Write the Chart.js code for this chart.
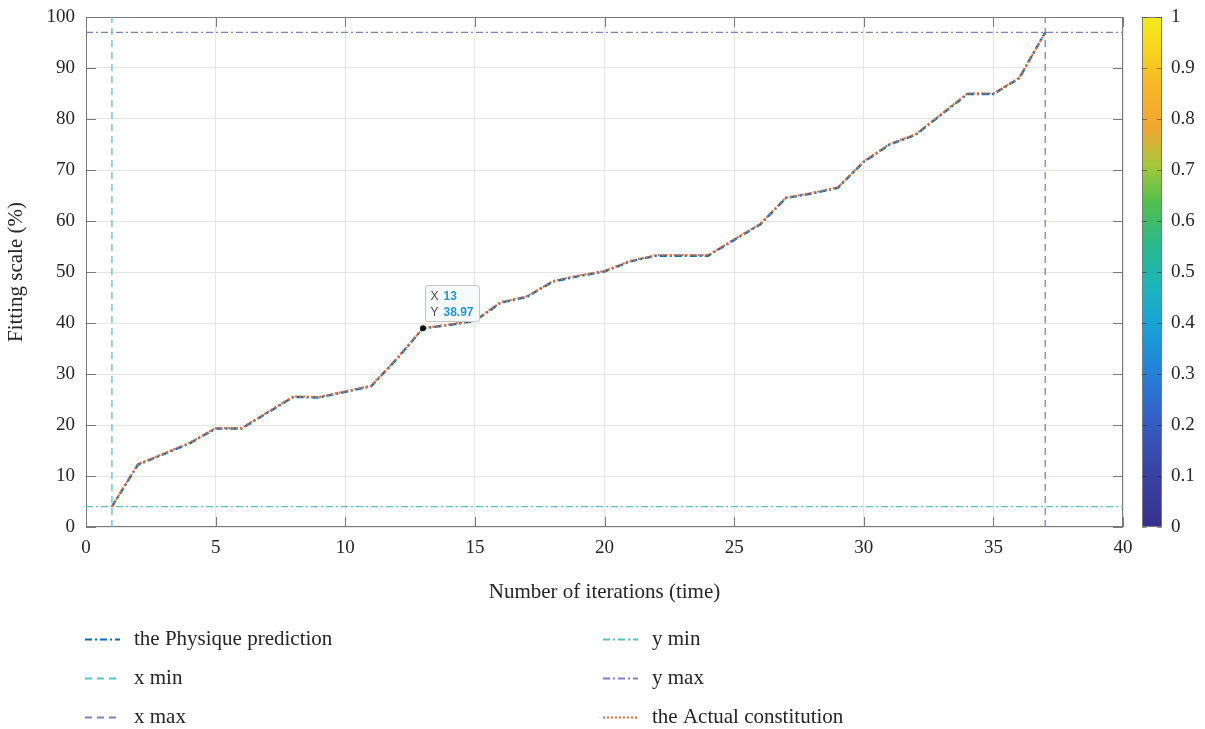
<!DOCTYPE html>
<html><head><meta charset="utf-8">
<script src="https://cdn.jsdelivr.net/npm/chart.js@4.4.0/dist/chart.umd.min.js"></script>
<style>html,body{margin:0;padding:0;background:#fff;}#wrap{width:1205px;height:729px;}</style>
</head><body><div id="wrap"><canvas id="c" width="1205" height="729"></canvas></div>
<script>
// ---- data ----
const iterations = [1,2,3,4,5,6,7,8,9,10,11,12,13,14,15,16,17,18,19,20,21,22,23,24,25,26,27,28,29,30,31,32,33,34,35,36,37];
const physiquePrediction = [4.0,12.2,14.3,16.4,19.3,19.3,22.4,25.5,25.4,26.5,27.6,33.0,38.97,39.6,40.4,44.0,45.1,48.1,49.2,50.1,52.1,53.2,53.2,53.2,56.3,59.3,64.5,65.4,66.5,71.6,75.0,76.9,80.9,84.9,84.9,88.0,97.0];
const actualConstitution = [4.0,12.3,14.4,16.5,19.4,19.4,22.5,25.6,25.5,26.6,27.7,33.1,38.97,39.7,40.5,44.1,45.2,48.2,49.3,50.2,52.2,53.3,53.3,53.3,56.4,59.4,64.6,65.5,66.6,71.7,75.1,77.0,81.0,85.0,85.0,88.1,97.0];
const xTickValues = [0,5,10,15,20,25,30,35,40];
const yTickValues = [0,10,20,30,40,50,60,70,80,90,100];
const colorbarTicks = [0,0.1,0.2,0.3,0.4,0.5,0.6,0.7,0.8,0.9,1];
const xAxisRange = [0,40];
const yAxisRange = [0,100];
const colorbarRange = [0,1];
const tipIndex = 12;
const seriesLabels = ['the Physique prediction','the Actual constitution','x min','x max','y min','y max'];

// ---- derived reference values ----
const xMin = Math.min(...iterations), xMax = Math.max(...iterations);
const yMin = Math.min(...physiquePrediction), yMax = Math.max(...physiquePrediction);

const SERIF = "'Liberation Serif','Times New Roman',serif";
const TXT = '#262626';
const C_BLUE = '#0072BD', C_ORANGE = '#EE6A35', C_TEAL = '#55C6C2', C_PURP = '#7F7FC4';

const pts = (xs, ys) => xs.map((x,i)=>({x, y: ys[i]}));

const datasets = [
  {label: seriesLabels[0], data: pts(iterations, physiquePrediction), borderColor: C_BLUE, borderWidth: 2.4, borderDash:[7,3,2,3], order: 1},
  {label: seriesLabels[1], data: pts(iterations, actualConstitution), borderColor: C_ORANGE, borderWidth: 2.2, borderDash:[2,2], order: 0},
  {label: seriesLabels[2], data: [{x:xMin,y:yAxisRange[0]},{x:xMin,y:yAxisRange[1]}], borderColor: C_TEAL, borderWidth: 1.3, borderDash:[7,5], order: 2},
  {label: seriesLabels[3], data: [{x:xMax,y:yAxisRange[0]},{x:xMax,y:yAxisRange[1]}], borderColor: C_PURP, borderWidth: 1.3, borderDash:[7,5], order: 2},
  {label: seriesLabels[4], data: [{x:xAxisRange[0],y:yMin},{x:xAxisRange[1],y:yMin}], borderColor: C_TEAL, borderWidth: 1.3, borderDash:[7,3,2,3], order: 2},
  {label: seriesLabels[5], data: [{x:xAxisRange[0],y:yMax},{x:xAxisRange[1],y:yMax}], borderColor: C_PURP, borderWidth: 1.3, borderDash:[7,3,2,3], order: 2},
];
datasets.forEach(d=>{ d.pointRadius = 0; d.fill = false; d.tension = 0; d.backgroundColor = d.borderColor; });

// legend layout: columns of dataset indices
const legendColumns = [[0,2,3],[4,5,1]];

const parula = [
  [0.00,'#36308c'],[0.12,'#3b45a8'],[0.22,'#3461c6'],[0.32,'#2286d8'],[0.40,'#18a4d6'],
  [0.48,'#1fb5b8'],[0.56,'#2cb986'],[0.64,'#55bf4c'],[0.71,'#a6c83a'],[0.78,'#f0a732'],
  [0.86,'#f7b52a'],[0.93,'#f6d21e'],[1.00,'#f4ea1e']
];

const decor = {
  id: 'decor',
  beforeDatasetsDraw(chart) {
    const {ctx, chartArea: a, scales} = chart;
    const sx = scales.x, sy = scales.y, sb = scales.yBar;
    ctx.save();
    ctx.strokeStyle = '#7a7a7a'; ctx.lineWidth = 1;
    ctx.strokeRect(Math.round(a.left)+0.5, Math.round(a.top)+0.5, Math.round(a.right-a.left)-1, Math.round(a.bottom-a.top)-1);
    const TL = 10;
    ctx.beginPath();
    xTickValues.forEach(v=>{ const p = Math.round(sx.getPixelForValue(v))+0.5;
      ctx.moveTo(p, a.bottom); ctx.lineTo(p, a.bottom-TL); ctx.moveTo(p, a.top); ctx.lineTo(p, a.top+TL); });
    yTickValues.forEach(v=>{ const p = Math.round(sy.getPixelForValue(v))+0.5;
      ctx.moveTo(a.left, p); ctx.lineTo(a.left+TL, p); ctx.moveTo(a.right, p); ctx.lineTo(a.right-TL, p); });
    ctx.stroke();
    // colorbar
    const bx = Math.round(a.right) + 19, bw = 20;
    const bt = sb.getPixelForValue(colorbarRange[1]), bb = sb.getPixelForValue(colorbarRange[0]);
    const g = ctx.createLinearGradient(0, bb, 0, bt);
    parula.forEach(([s,c])=>g.addColorStop(s,c));
    ctx.fillStyle = g; ctx.fillRect(bx, bt, bw, bb-bt);
    ctx.strokeStyle = '#7a7a7a'; ctx.strokeRect(bx+0.5, bt+0.5, bw-1, bb-bt-1);
    ctx.strokeStyle = 'rgba(40,40,40,0.5)';
    ctx.beginPath();
    colorbarTicks.forEach(v=>{ const p = Math.round(sb.getPixelForValue(v))+0.5;
      ctx.moveTo(bx+bw, p); ctx.lineTo(bx+bw-5, p); ctx.moveTo(bx, p); ctx.lineTo(bx+5, p); });
    ctx.stroke();
    ctx.restore();
  },
  afterDatasetsDraw(chart) {
    const {ctx, scales} = chart;
    const sx = scales.x, sy = scales.y;
    ctx.save();
    const px = sx.getPixelForValue(iterations[tipIndex]);
    const py = sy.getPixelForValue(physiquePrediction[tipIndex]);
    ctx.fillStyle = '#111';
    ctx.beginPath(); ctx.arc(px, py, 3, 0, Math.PI*2); ctx.fill();
    const bx = Math.round(px)+2.5, by = Math.round(py)-42.5, bw = 54, bh = 36;
    ctx.fillStyle = '#f8f9fb'; ctx.strokeStyle = '#c4c4c4'; ctx.lineWidth = 1;
    ctx.beginPath(); ctx.roundRect(bx, by, bw, bh, 2); ctx.fill(); ctx.stroke();
    ctx.textBaseline = 'middle'; ctx.textAlign = 'left';
    ctx.font = "12px 'Liberation Sans', Arial, sans-serif"; ctx.fillStyle = '#4a4a4a';
    ctx.fillText('X', bx+5, by+11); ctx.fillText('Y', bx+5, by+27);
    ctx.font = "bold 12px 'Liberation Sans', Arial, sans-serif"; ctx.fillStyle = '#1b9bd7';
    ctx.fillText(String(iterations[tipIndex]), bx+18, by+11);
    ctx.fillText(physiquePrediction[tipIndex].toFixed(2), bx+18, by+27);
    // legend
    const colX = [85, 603], rowY = [639, 678, 717], sampleW = 35, textGap = 14;
    ctx.font = "21px " + SERIF;
    legendColumns.forEach((col, ci)=>{
      col.forEach((di, ri)=>{
        const ds = chart.data.datasets[di];
        const x = colX[ci], y = rowY[ri];
        ctx.strokeStyle = ds.borderColor; ctx.lineWidth = 2;
        ctx.setLineDash(ds.borderDash);
        ctx.beginPath(); ctx.moveTo(x, y+0.5); ctx.lineTo(x+sampleW, y+0.5); ctx.stroke();
        ctx.setLineDash([]);
        ctx.fillStyle = TXT; ctx.textBaseline = 'middle';
        ctx.fillText(ds.label, x+sampleW+textGap, y);
      });
    });
    ctx.restore();
  }
};

const tickFont = {family: SERIF, size: 19};
const titleFont = {family: SERIF, size: 21};
const target = {top: 17, bottom: 527};
const zeroVPad = s => { s.paddingTop = 0; s.paddingBottom = 0; };
const chart = new Chart(document.getElementById('c'), {
  type: 'line',
  data: {datasets},
  plugins: [decor],
  options: {
    responsive: false, animation: false, devicePixelRatio: 1,
    layout: {padding: {top: 17, left: 0, right: 0, bottom: 202}},
    plugins: {legend: {display: false}, tooltip: {enabled: false}},
    scales: {
      x: {type: 'linear', min: xAxisRange[0], max: xAxisRange[1],
        afterBuildTicks: s => { s.ticks = xTickValues.map(v=>({value:v})); },
        afterFit: s => { s.height = 80; s.paddingLeft = 0; s.paddingRight = 0; },
        grid: {color: '#e6e6e6', lineWidth: 1, drawTicks: false},
        border: {display: false},
        ticks: {font: tickFont, color: TXT, padding: 10, maxRotation: 0, autoSkip: false},
        title: {display: true, text: 'Number of iterations (time)', font: titleFont, color: TXT, padding: {top: 0, bottom: 2}}
      },
      y: {type: 'linear', position: 'left', min: yAxisRange[0], max: yAxisRange[1],
        afterBuildTicks: s => { s.ticks = yTickValues.map(v=>({value:v})); },
        afterFit: s => { s.width = 86; zeroVPad(s); },
        grid: {color: '#e6e6e6', lineWidth: 1, drawTicks: false},
        border: {display: false},
        ticks: {font: tickFont, color: TXT, padding: 11, autoSkip: false},
        title: {display: true, text: 'Fitting scale (%)', font: titleFont, color: TXT, padding: {top: 4, bottom: 0}}
      },
      yBar: {type: 'linear', position: 'right', min: colorbarRange[0], max: colorbarRange[1],
        afterBuildTicks: s => { s.ticks = colorbarTicks.map(v=>({value:v})); },
        afterFit: s => { s.width = 82; zeroVPad(s); },
        grid: {display: false, drawTicks: false, drawOnChartArea: false},
        border: {display: false},
        ticks: {font: tickFont, color: TXT, padding: 48, autoSkip: false, callback: v => String(v)}
      }
    }
  }
});
// calibrate plot area to target edges
const dTop = chart.chartArea.top - target.top, dBot = chart.chartArea.bottom - target.bottom;
if (Math.abs(dTop) > 0.5 || Math.abs(dBot) > 0.5) {
  chart.options.layout.padding.top -= dTop;
  chart.options.layout.padding.bottom += dBot;
  chart.update();
}
</script></body></html>
